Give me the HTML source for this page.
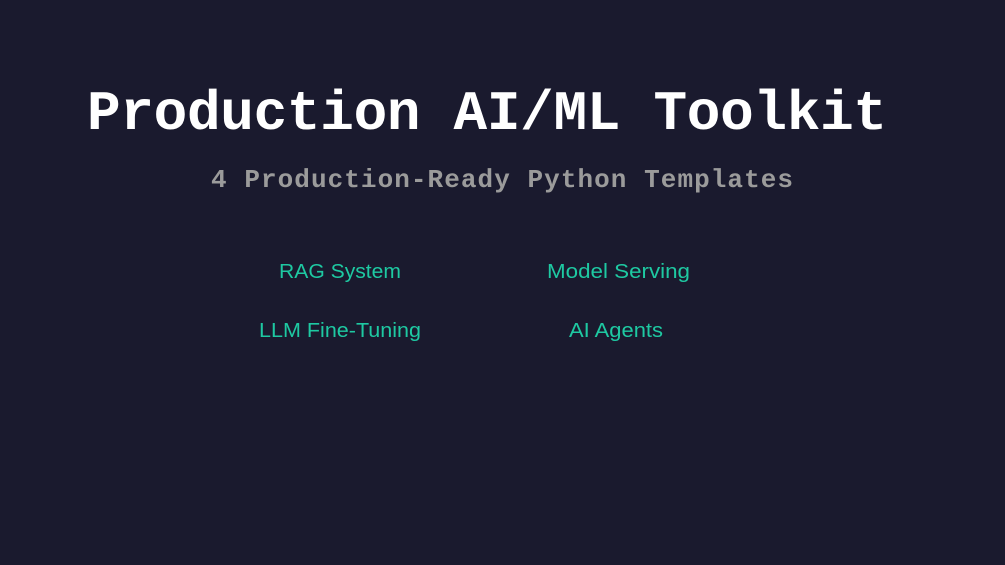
<!DOCTYPE html>
<html>
<head>
<meta charset="utf-8">
<style>
  html, body { margin:0; padding:0; }
  body { width:1005px; height:565px; background:#1a1a2e; overflow:hidden; }
  svg { display:block; }
</style>
</head>
<body>
<svg width="1005" height="565" viewBox="0 0 1005 565" xmlns="http://www.w3.org/2000/svg">
  <rect x="0" y="0" width="1005" height="565" fill="#1a1a2e"/>
  <text x="87" y="129" font-family="'Liberation Mono', monospace" font-weight="bold" font-size="56" fill="#ffffff" textLength="800" lengthAdjust="spacing">Production AI/ML Toolkit</text>
  <text x="211" y="187" font-family="'Liberation Mono', monospace" font-weight="bold" font-size="26" fill="#9b9b9b" textLength="582" lengthAdjust="spacing">4 Production-Ready Python Templates</text>
  <g font-family="'Liberation Sans', sans-serif" font-size="20" fill="#1ec9a2">
    <text x="279" y="278" textLength="122" lengthAdjust="spacingAndGlyphs">RAG System</text>
    <text x="547" y="278" textLength="143" lengthAdjust="spacingAndGlyphs">Model Serving</text>
    <text x="259" y="337" textLength="162" lengthAdjust="spacingAndGlyphs">LLM Fine-Tuning</text>
    <text x="569" y="337" textLength="94" lengthAdjust="spacingAndGlyphs">AI Agents</text>
  </g>
</svg>
</body>
</html>
